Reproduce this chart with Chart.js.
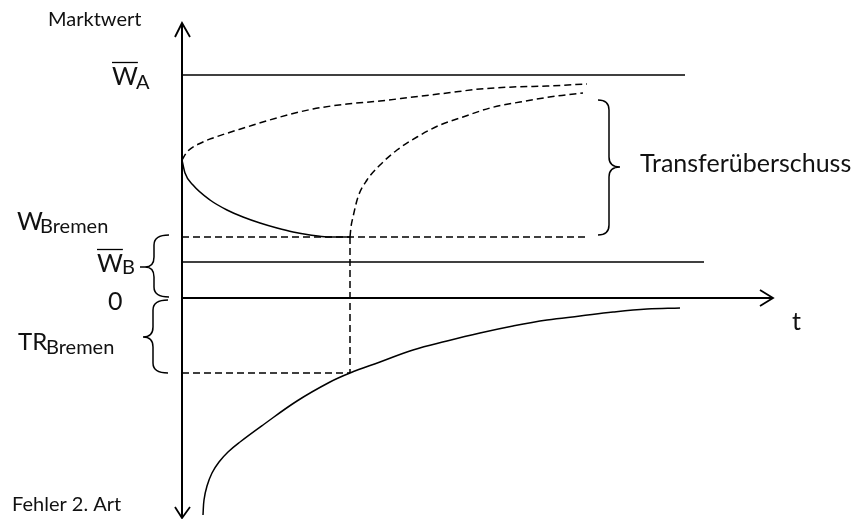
<!DOCTYPE html>
<html><head><meta charset="utf-8">
<script src="https://cdn.jsdelivr.net/npm/chart.js@4/dist/chart.umd.min.js"></script>
<style>html,body{margin:0;padding:0;background:#fff;overflow:hidden}#wrap{width:857px;height:519px}</style>
</head><body><div id="wrap"><canvas id="c" width="857" height="519"></canvas></div>
<script>
// ---- values (t on x, Marktwert on y) ----
const levelWA = 223;        // W̄_A
const levelWB = 36;         // W̄_B
const levelWBremen = 61;    // W_Bremen
const levelTR = -75;        // TR_Bremen
const tStar = 168;          // time where curves meet
const tEndWA = 503, tEndWB = 522, tEndAxis = 591;
const yAxisTop = 275, yAxisBottom = -220;

// solid falling curve (Marktwert Bremen)
const fallT = [0, 3, 11, 28, 45, 61, 78, 95, 111, 128, 145, 168];
const fallW = [138, 125, 113, 98, 88, 81, 75, 70, 66, 63, 61, 61];
// upper dashed curve
const upT = [0, 5, 21, 31, 65, 98, 131, 165, 198, 231, 265, 298, 331, 365, 405];
const upW = [138, 146, 156, 160, 171, 181, 189, 194, 197, 201, 205, 209, 211, 212, 214];
// second dashed curve (from t*)
const riseT = [168, 169, 171, 176, 185, 198, 215, 235, 258, 281, 308, 338, 375, 401];
const riseW = [61, 71, 81, 101, 118, 133, 148, 161, 173, 181, 190, 196, 202, 205];
// lower solid curve (TR)
const trT = [21, 22, 25, 30, 37, 46, 58, 81, 115, 148, 168, 198, 231, 265, 298, 331, 365, 398, 431, 465, 498];
const trW = [-217, -202, -188, -175, -164, -154, -144, -127, -103, -84, -75, -64, -52, -43, -35, -28, -22, -18, -14, -11, -10];

const zip = (xs, ys) => xs.map((x, i) => ({x, y: ys[i]}));
const seg = (pts, extra) => Object.assign({data: pts, showLine: true, borderColor: '#000', borderWidth: 1.5, pointRadius: 0, fill: false}, extra || {});
const DASH = [7, 4];

const datasets = [
  seg([{x:0,y:yAxisBottom},{x:0,y:yAxisTop}], {borderWidth: 2}),
  seg([{x:-7,y:yAxisTop-14},{x:0,y:yAxisTop},{x:8,y:yAxisTop-14}], {borderWidth: 1.8}),
  seg([{x:-7,y:yAxisBottom+11},{x:0,y:yAxisBottom},{x:8,y:yAxisBottom+11}], {borderWidth: 1.8}),
  seg([{x:0,y:0},{x:tEndAxis,y:0}], {borderWidth: 2}),
  seg([{x:tEndAxis-13,y:8},{x:tEndAxis,y:0},{x:tEndAxis-13,y:-8}], {borderWidth: 1.8}),
  seg([{x:0,y:levelWA},{x:tEndWA,y:levelWA}]),
  seg([{x:0,y:levelWB},{x:tEndWB,y:levelWB}]),
  seg([{x:0,y:levelWBremen},{x:405,y:levelWBremen}], {borderDash: DASH}),
  seg([{x:tStar,y:levelWBremen},{x:tStar,y:levelTR}], {borderDash: DASH}),
  seg([{x:0,y:levelTR},{x:tStar,y:levelTR}], {borderDash: DASH}),
  seg(zip(fallT, fallW), {cubicInterpolationMode: 'monotone'}),
  seg(zip(upT, upW), {cubicInterpolationMode: 'monotone', borderDash: DASH}),
  seg(zip(riseT, riseW), {cubicInterpolationMode: 'monotone', borderDash: DASH}),
  seg(zip(trT, trW), {tension: 0.4})
];

// braces: end x, spine x, tip x, top y, bottom y, tip y (data units)
const braces = [
  [416, 427, 438, 198, 63, 131],
  [-13, -28, -37, 63, 1, 31],
  [-14, -29, -39, -2, -75, -39]
];
const ticks = [[-42, -37, 31]];

const FONT = 'Lato, Carlito, Calibri, "Open Sans", sans-serif';
// labels: text, x, y (baseline, data units), size, overline
const labels = [
  ['Marktwert', -134, 272, 20],
  ['W', -70, 213, 25, true], ['A', -46, 209, 20],
  ['W', -165, 68, 25], ['Bremen', -142, 65, 20],
  ['W', -85, 26, 25, true], ['B', -60, 24, 20],
  ['0', -74, -12, 25],
  ['TR', -164, -52, 24], ['Bremen', -136, -56, 20],
  ['Fehler 2. Art', -170, -213, 20],
  ['t', 610, -32, 25],
  ['Transferüberschuss', 458, 126, 25]
];

const deco = {
  id: 'deco',
  afterDatasetsDraw(chart) {
    const ctx = chart.ctx, sx = chart.scales.x, sy = chart.scales.y;
    const X = v => sx.getPixelForValue(v), Y = v => sy.getPixelForValue(v);
    ctx.save();
    ctx.strokeStyle = '#000'; ctx.lineWidth = 1.5; ctx.setLineDash([]);
    braces.forEach(([xe, xm, xt, yt, yb, ym]) => {
      const pe = X(xe), pm = X(xm), pt = X(xt), pT = Y(yt), pB = Y(yb), pM = Y(ym);
      const r = Math.min(10, (pB - pT) / 5);
      ctx.beginPath();
      ctx.moveTo(pe, pT);
      ctx.quadraticCurveTo(pm, pT, pm, pT + r);
      ctx.lineTo(pm, pM - r);
      ctx.quadraticCurveTo(pm, pM, pt, pM);
      ctx.quadraticCurveTo(pm, pM, pm, pM + r);
      ctx.lineTo(pm, pB - r);
      ctx.quadraticCurveTo(pm, pB, pe, pB);
      ctx.stroke();
    });
    ticks.forEach(([a, b, y]) => { ctx.beginPath(); ctx.moveTo(X(a), Y(y)); ctx.lineTo(X(b), Y(y)); ctx.stroke(); });
    ctx.fillStyle = '#111'; ctx.textBaseline = 'alphabetic'; ctx.textAlign = 'left';
    labels.forEach(([txt, x, y, size, over]) => {
      ctx.font = size + 'px ' + FONT;
      const px = X(x), py = Y(y);
      ctx.fillText(txt, px, py);
      if (over) {
        const w = ctx.measureText(txt).width;
        ctx.lineWidth = 1.3;
        ctx.beginPath(); ctx.moveTo(px, py - size * 0.9); ctx.lineTo(px + w, py - size * 0.9); ctx.stroke();
      }
    });
    ctx.restore();
  }
};

new Chart(document.getElementById('c'), {
  type: 'scatter',
  data: {datasets},
  options: {
    responsive: false, animation: false,
    layout: {padding: 0},
    plugins: {legend: {display: false}, tooltip: {enabled: false}},
    elements: {point: {radius: 0}},
    scales: {
      x: {type: 'linear', display: false, min: -182, max: 675},
      y: {type: 'linear', display: false, min: -221, max: 298}
    }
  },
  plugins: [deco]
});
</script></body></html>
